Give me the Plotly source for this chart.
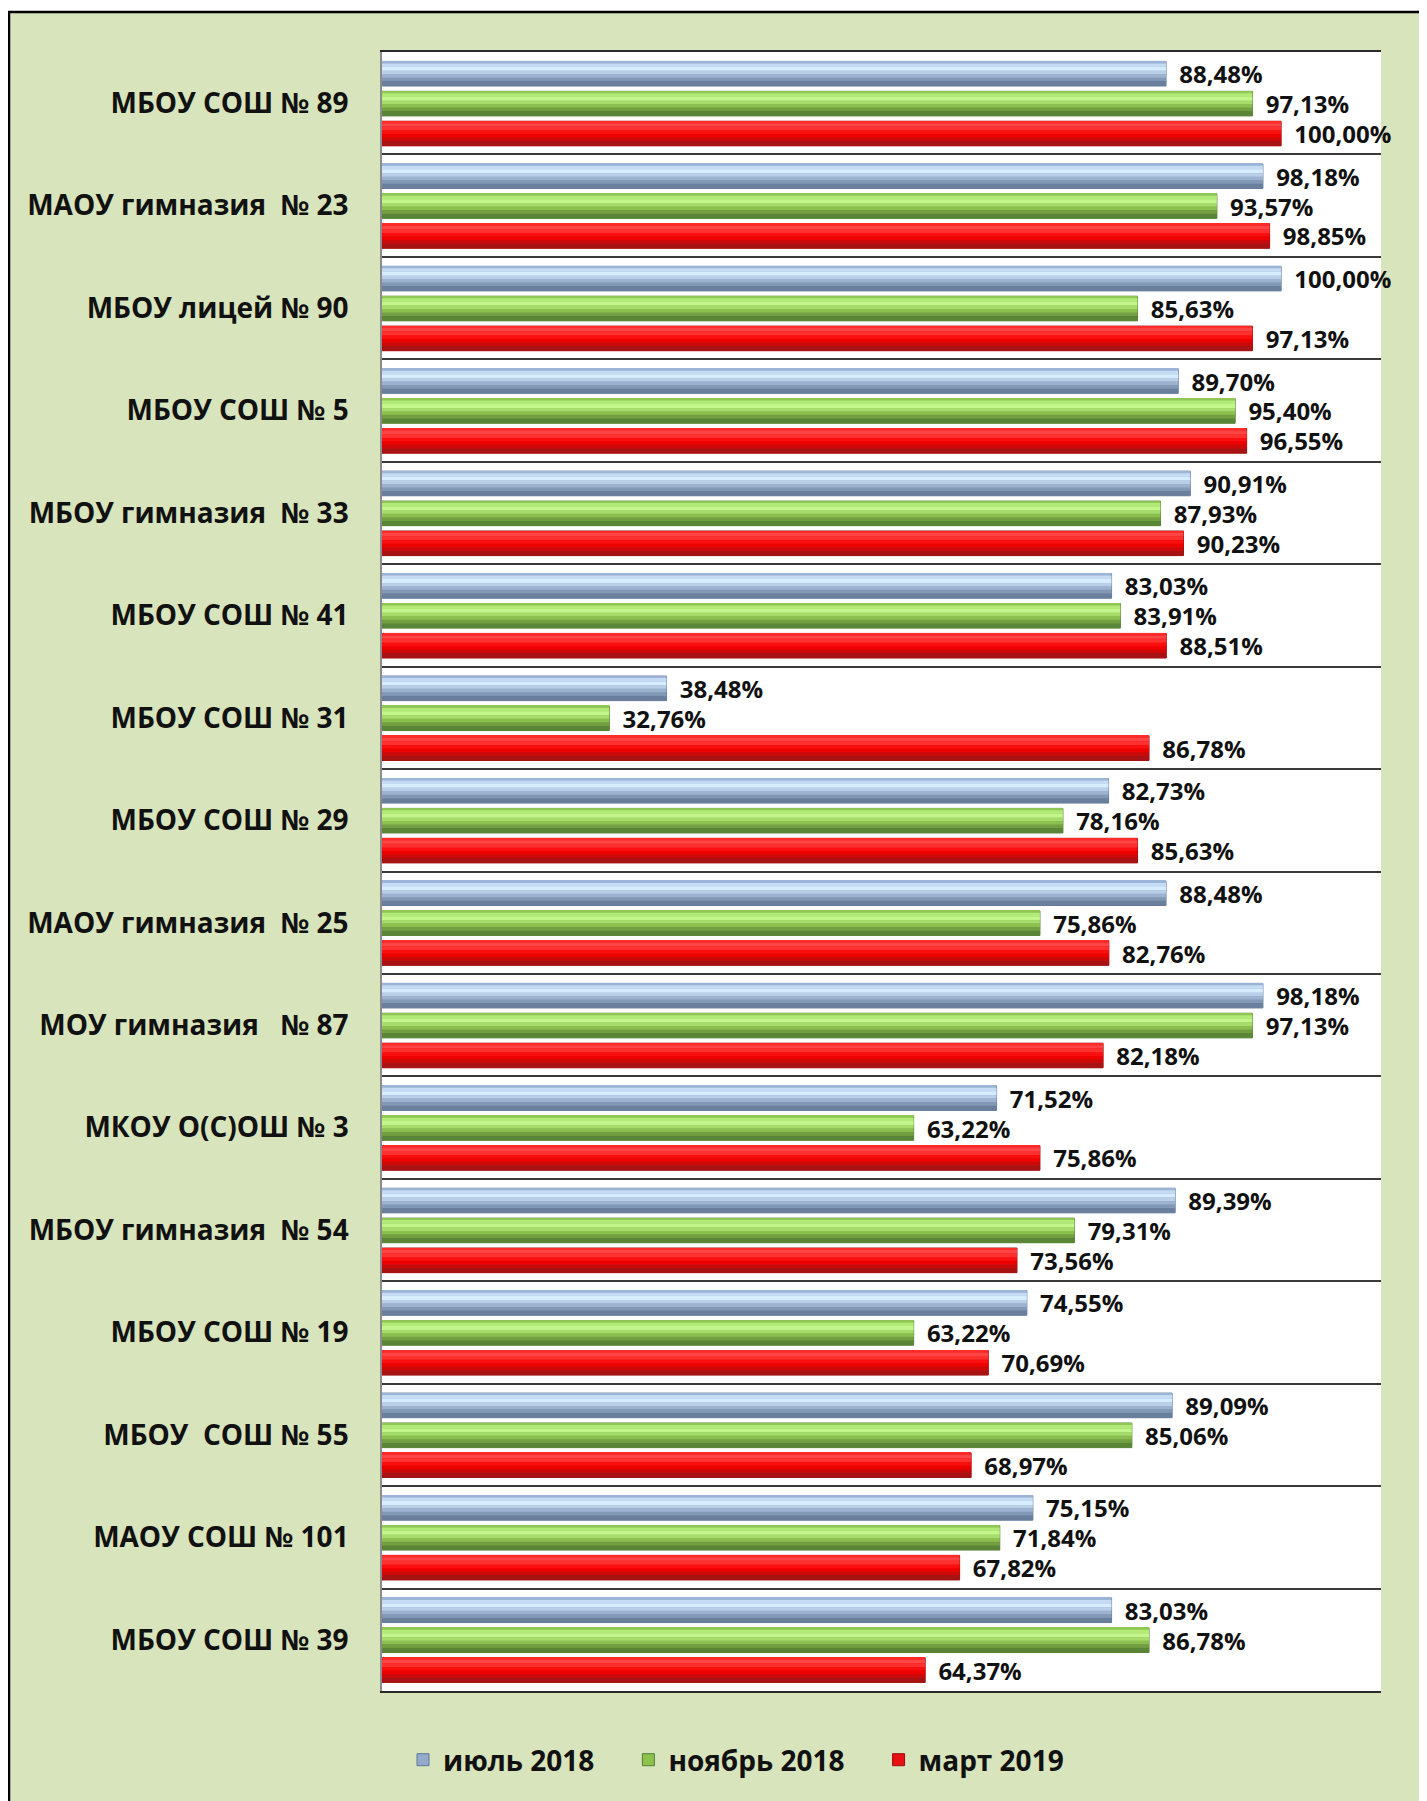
import plotly.graph_objects as go

schools = ["МБОУ СОШ № 89", "МАОУ гимназия\u00a0 № 23", "МБОУ лицей № 90", "МБОУ СОШ № 5",
           "МБОУ гимназия\u00a0 № 33", "МБОУ СОШ № 41", "МБОУ СОШ № 31", "МБОУ СОШ № 29",
           "МАОУ гимназия\u00a0 № 25", "МОУ гимназия\u00a0\u00a0 № 87", "МКОУ О(С)ОШ № 3",
           "МБОУ гимназия\u00a0 № 54", "МБОУ СОШ № 19", "МБОУ\u00a0 СОШ № 55", "МАОУ СОШ № 101",
           "МБОУ СОШ № 39"]
series_names = ["июль 2018", "ноябрь 2018", "март 2019"]
jul_2018 = [88.48, 98.18, 100.00, 89.70, 90.91, 83.03, 38.48, 82.73, 88.48, 98.18, 71.52, 89.39, 74.55, 89.09, 75.15, 83.03]
nov_2018 = [97.13, 93.57, 85.63, 95.40, 87.93, 83.91, 32.76, 78.16, 75.86, 97.13, 63.22, 79.31, 63.22, 85.06, 71.84, 86.78]
mar_2019 = [100.00, 98.85, 97.13, 96.55, 90.23, 88.51, 86.78, 85.63, 82.76, 82.18, 75.86, 73.56, 70.69, 68.97, 67.82, 64.37]

FONT = "Open Sans"
BAR_W = 0.24
OFFSETS = [-0.408, -0.116, 0.176]
# bevel-like gradient bands, top to bottom of each bar
BAND_EDGES = [0.0, 0.08, 0.22, 0.38, 0.52, 0.66, 0.80, 1.0]
BAND_COLORS = [
    ["#9CB4D6", "#C4DBF3", "#D6ECFF", "#B9CFE8", "#9CB2CF", "#8299B6", "#6A7F9B"],
    ["#8FC655", "#B2EA78", "#C2F58C", "#A6DC6C", "#8BBF4F", "#739F42", "#5A8436"],
    ["#FF2A2A", "#FF4545", "#FF3030", "#FA0E0E", "#EC0000", "#CC0808", "#A81212"],
]
MAIN = ["#93AACB", "#8DC24F", "#E81010"]
EDGE = ["#62779A", "#557F33", "#9A0E0E"]
LEGEND_PAD = "\u00a0\u00a0\u00a0\u00a0"

fig = go.Figure()
for i, (name, vals) in enumerate(zip(series_names, [jul_2018, nov_2018, mar_2019])):
    fig.add_trace(go.Bar(
        y=schools, x=vals, name=name + LEGEND_PAD, orientation="h",
        offset=OFFSETS[i], width=BAR_W,
        marker=dict(color=MAIN[i], line=dict(color=EDGE[i], width=1)),
        texttemplate="\u00a0\u2009%{x:.2f}%", textposition="outside", constraintext="none",
        textfont=dict(family=FONT, size=24, color="#111111", weight="bold"),
        cliponaxis=False, legendrank=i,
    ))
    for k, col in enumerate(BAND_COLORS[i]):
        a, b = BAND_EDGES[k], BAND_EDGES[k + 1]
        fig.add_trace(go.Bar(
            y=schools, x=vals, orientation="h", showlegend=False, hoverinfo="skip",
            offset=OFFSETS[i] + a * BAR_W, width=(b - a) * BAR_W,
            marker=dict(color=col, line=dict(width=0)),
        ))

# page offset: the browser body adds 8px, so paper coordinates are screen minus 8
W, H = 1419, 1793
L, T, R, B = 374, 44, 1373, 1683
PW, PH = R - L, B - T
# outer olive frame
fig.add_shape(type="rect", xref="paper", yref="paper", layer="below",
              x0=(1 - L) / PW, x1=(W + 20 - L) / PW, y0=(B - H - 20) / PH, y1=(B - 4) / PH,
              fillcolor="#D8E4BC", line=dict(color="#000000", width=2.5))
# white plot area
fig.add_shape(type="rect", xref="paper", yref="paper", layer="below",
              x0=0, x1=1, y0=0, y1=1, fillcolor="#FFFFFF", line=dict(width=0))

fig.update_layout(
    width=W, height=H,
    margin=dict(l=L, r=W - R, t=T, b=H - B, pad=0),
    paper_bgcolor="#FFFFFF", plot_bgcolor="#FFFFFF",
    barmode="overlay", separators=", ",
    showlegend=True,
    legend=dict(orientation="h", x=(395 - L) / PW, xanchor="left", y=(B - 1752) / PH, yanchor="middle",
                font=dict(family=FONT, size=28, color="#111111", weight="bold"),
                bgcolor="rgba(0,0,0,0)", traceorder="normal"),
    xaxis=dict(range=[10, 110], showgrid=False, zeroline=False, showticklabels=False,
               showline=True, mirror=True, linecolor="#2A2A2A", linewidth=1.5, ticks=""),
    yaxis=dict(autorange="reversed", type="category", tickson="boundaries",
               showgrid=True, gridcolor="#3A3A3A", gridwidth=1.5,
               showline=True, linecolor="#8C8C8C", linewidth=1.5,
               ticks="", ticklabelstandoff=26,
               tickfont=dict(family=FONT, size=28, color="#111111", weight="bold")),
    font=dict(family=FONT),
)

fig.write_html("out.html")
